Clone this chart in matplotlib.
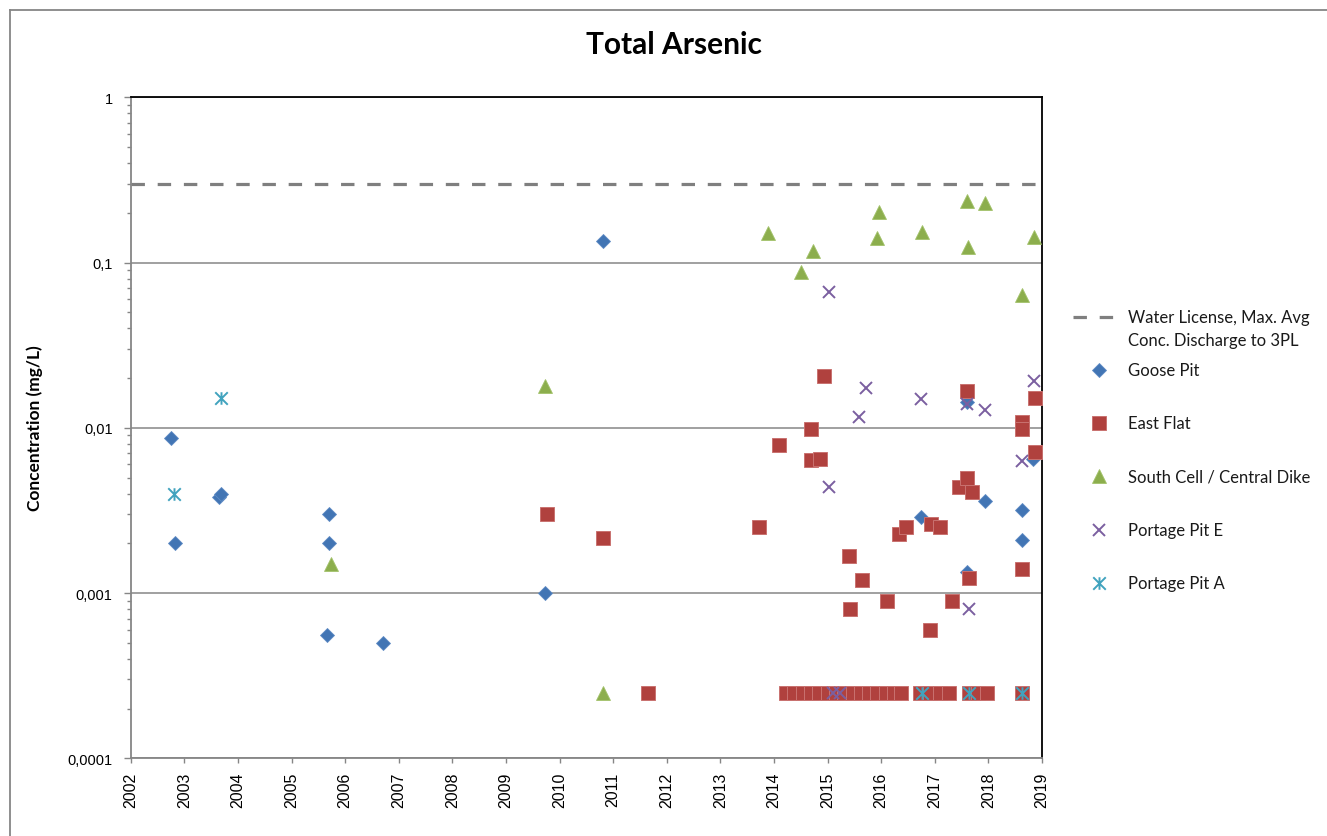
import matplotlib.pyplot as plt
from matplotlib.path import Path
from matplotlib.ticker import LogLocator, NullFormatter

# Values (decimal year, concentration in mg/L)
goose_x = [2002.75, 2002.82, 2003.65, 2003.68, 2005.70, 2005.69, 2005.67, 2006.70,
           2009.73, 2010.82, 2016.74, 2017.60, 2017.61, 2017.94, 2018.62, 2018.62, 2018.84]
goose_y = [0.0087, 0.0020, 0.0038, 0.0040, 0.0030, 0.0020, 0.00056, 0.0005,
           0.0010, 0.135, 0.0029, 0.0143, 0.00134, 0.0036, 0.0032, 0.0021, 0.0065]

east_x = [2009.76, 2010.81, 2011.65, 2013.72, 2014.10, 2014.69, 2014.69, 2014.86,
          2014.93, 2015.40, 2015.42, 2015.64, 2016.11, 2016.34, 2016.46, 2016.91,
          2016.93, 2017.10, 2017.33, 2017.45, 2017.61, 2017.61, 2017.64, 2017.70,
          2018.62, 2018.62, 2018.62, 2018.87, 2018.87,
          2014.22, 2014.37, 2014.54, 2014.69, 2014.84, 2015.01, 2015.16, 2015.31,
          2015.48, 2015.62, 2015.77, 2015.92, 2016.09, 2016.24, 2016.37, 2016.73,
          2016.91, 2017.10, 2017.26, 2017.64, 2017.81, 2017.98, 2018.62]
east_y = [0.0030, 0.00215, 0.00025, 0.0025, 0.0079, 0.0098, 0.0064, 0.0065,
          0.0207, 0.00168, 0.0008, 0.0012, 0.0009, 0.00228, 0.0025, 0.0006,
          0.0026, 0.0025, 0.0009, 0.00436, 0.0168, 0.00494, 0.00123, 0.0041,
          0.0108, 0.0099, 0.0014, 0.0151, 0.0071,
          0.00025, 0.00025, 0.00025, 0.00025, 0.00025, 0.00025, 0.00025, 0.00025,
          0.00025, 0.00025, 0.00025, 0.00025, 0.00025, 0.00025, 0.00025, 0.00025,
          0.00025, 0.00025, 0.00025, 0.00025, 0.00025, 0.00025, 0.00025]

south_x = [2005.74, 2009.73, 2010.81, 2013.89, 2014.50, 2014.73, 2015.93, 2015.96,
           2016.77, 2017.61, 2017.62, 2017.94, 2018.62, 2018.86]
south_y = [0.0015, 0.018, 0.00025, 0.151, 0.0873, 0.118, 0.140, 0.203,
           0.152, 0.235, 0.124, 0.229, 0.0639, 0.142]

pite_x = [2015.03, 2015.03, 2015.11, 2015.23, 2015.59, 2015.72, 2016.75, 2017.60,
          2017.63, 2017.94, 2018.62, 2018.85]
pite_y = [0.0666, 0.00436, 0.00025, 0.00025, 0.0117, 0.0174, 0.0149, 0.0139,
          0.0008, 0.0128, 0.0063, 0.0191]

pita_x = [2002.80, 2003.68, 2016.77, 2017.64, 2018.62]
pita_y = [0.0040, 0.0151, 0.00025, 0.00025, 0.00025]

limit_value = 0.3

series_names = ["Goose Pit", "East Flat", "South Cell / Central Dike",
                "Portage Pit E", "Portage Pit A"]

x_ticks = list(range(2002, 2020))
y_ticks = [0.0001, 0.001, 0.01, 0.1, 1]
y_tick_labels = ["0,0001", "0,001", "0,01", "0,1", "1"]

# Excel-like star marker: an X with a vertical bar
star = Path([(-1, -1), (1, 1), (-1, 1), (1, -1), (0, -1), (0, 1)],
            [Path.MOVETO, Path.LINETO, Path.MOVETO, Path.LINETO, Path.MOVETO, Path.LINETO])

styles = [
    dict(marker="D", ms=7.4, color="#4275B4", mec="#5E8BC4", mew=0.6),
    dict(marker="s", ms=10.2, color="#B0413E", mec="#C97270", mew=0.7),
    dict(marker="^", ms=10.5, color="#8CAE4D", mec="#A3C26B", mew=0.6),
    dict(marker="x", ms=9.0, color="#7B5FA0", mew=1.4),
    dict(marker=star, ms=9.0, color="#41A3BE", mew=1.4),
]
limit_style = dict(color="#7F7F7F", lw=2.3, dashes=(4.2, 4.0))

grey = "#868686"

fig = plt.figure(figsize=(13.27, 8.37), dpi=100)
ax = fig.add_axes([0.0985, 0.0928, 0.6867, 0.7898])

ax.axhline(limit_value, zorder=2, **limit_style)
data = [(goose_x, goose_y), (east_x, east_y), (south_x, south_y),
        (pite_x, pite_y), (pita_x, pita_y)]
for (xs, ys), st in zip(data, styles):
    ax.plot(xs, ys, linestyle="none", clip_on=False, zorder=3, **st)

ax.set_yscale("log")
ax.set_ylim(0.0001, 1)
ax.set_xlim(2002, 2019)
ax.set_xticks(x_ticks)
ax.set_xticklabels([str(t) for t in x_ticks], rotation=90,
                   fontsize=11.5, family="Liberation Sans")
ax.set_yticks(y_ticks)
ax.set_yticklabels(y_tick_labels, fontsize=10.5, family="Liberation Sans")
ax.yaxis.set_minor_locator(LogLocator(base=10, subs=range(2, 10)))
ax.yaxis.set_minor_formatter(NullFormatter())
ax.tick_params(axis="y", which="major", length=5, width=1, color=grey, pad=8)
ax.tick_params(axis="y", which="minor", length=3, width=1, color=grey)
ax.tick_params(axis="x", which="major", length=3.5, width=1, color=grey, pad=6)
ax.yaxis.grid(True, which="major", color=grey, lw=1.1)
ax.set_axisbelow(True)

for side in ["left", "bottom"]:
    ax.spines[side].set_color(grey)
    ax.spines[side].set_linewidth(1.3)
for side in ["top", "right"]:
    ax.spines[side].set_color("black")
    ax.spines[side].set_linewidth(1.3)

fig.text(0.508, 0.946, "Total Arsenic", ha="center", va="center",
         fontsize=21.5, fontweight="bold", family="Lato")
fig.text(0.026, 0.488, "Concentration (mg/L)", rotation=90, ha="center", va="center",
         fontsize=12.5, fontweight="bold", family="Lato")

# overlay in pixel coordinates for the chart border and legend
ov = fig.add_axes([0, 0, 1, 1])
ov.set_xlim(0, 1327)
ov.set_ylim(837, 0)
ov.axis("off")
ov.plot([9.7, 1327], [11, 11], color=grey, lw=1.3)
ov.plot([9.7, 9.7], [11, 837], color=grey, lw=1.3)

text_kw = dict(fontsize=12, family="Lato", color="#1a1a1a", va="center")
ov.plot([1073, 1113], [318, 318], **limit_style)
ov.text(1128, 318, "Water License, Max. Avg", **text_kw)
ov.text(1128, 341, "Conc. Discharge to 3PL", **text_kw)
for i, (name, st) in enumerate(zip(series_names, styles)):
    y = 371 + 53.2 * i
    ov.plot([1099], [y], linestyle="none", **st)
    ov.text(1128, y, name, **text_kw)

fig.savefig("out.png", dpi=100)
